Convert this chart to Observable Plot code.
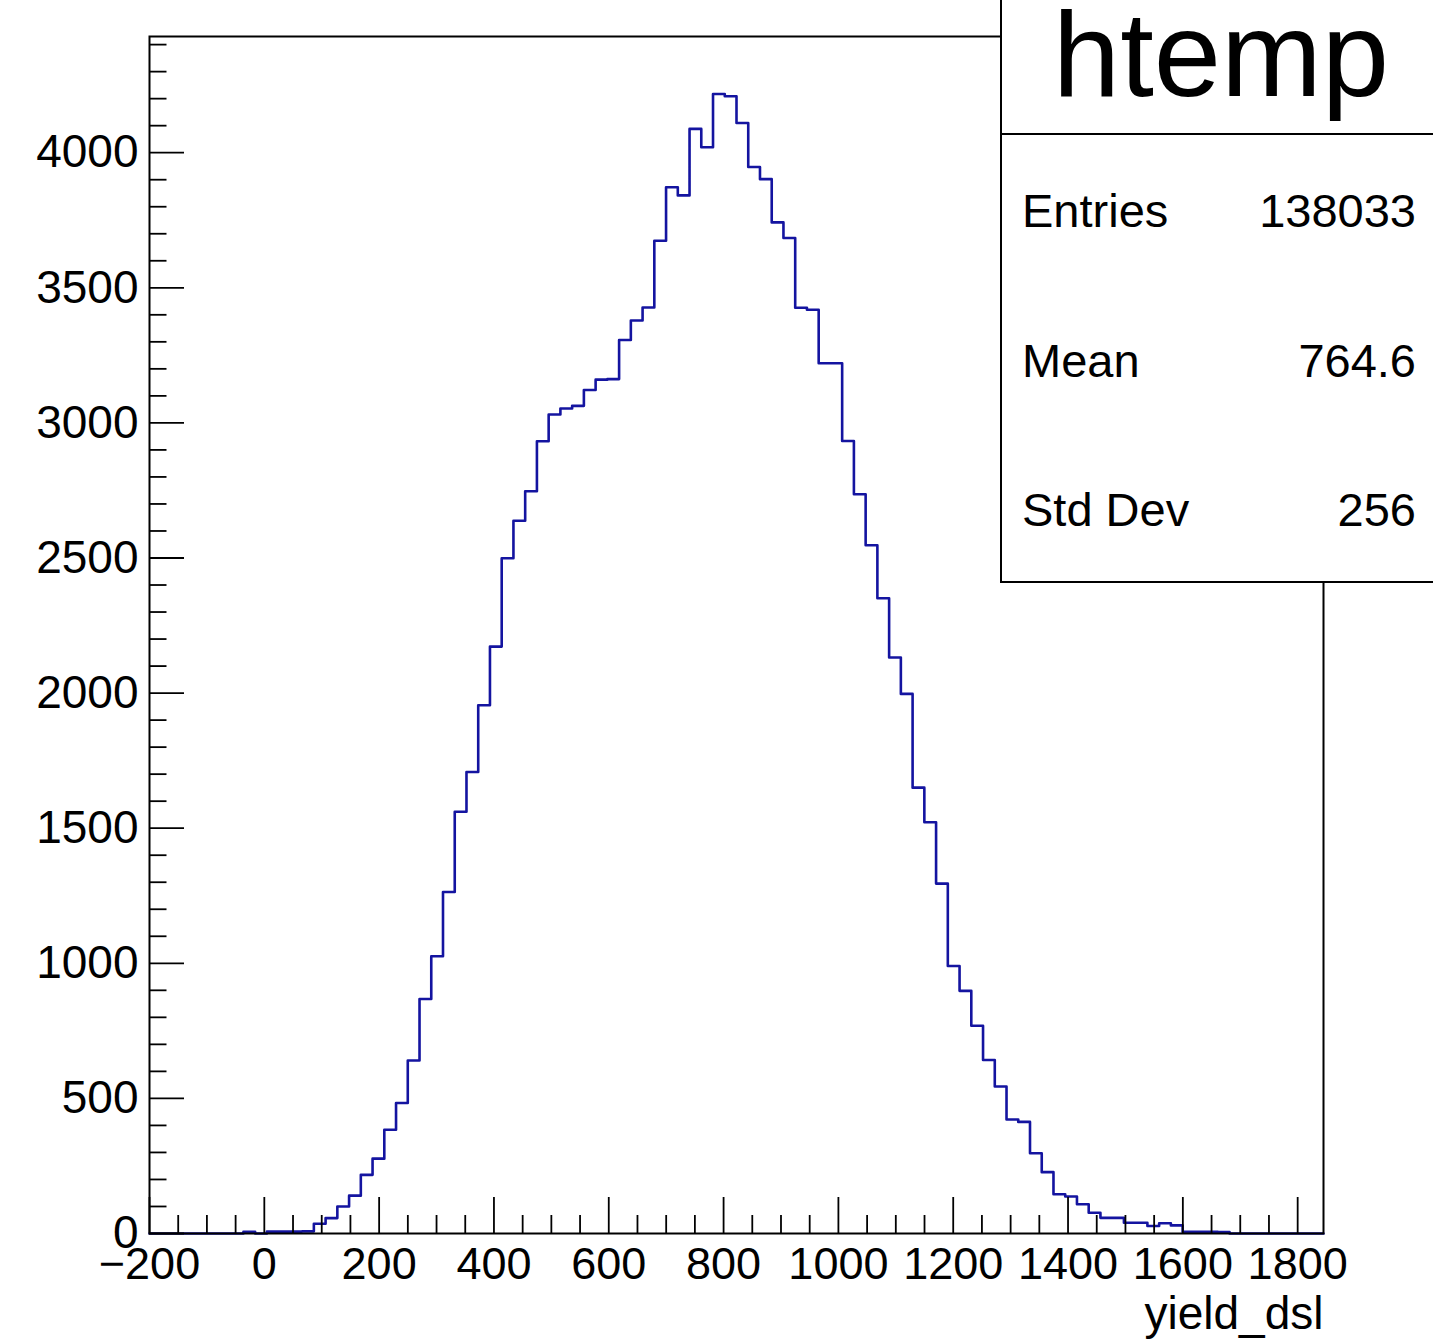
<!DOCTYPE html>
<html>
<head>
<meta charset="utf-8">
<script src="https://cdn.jsdelivr.net/npm/d3@7"></script>
<script src="https://cdn.jsdelivr.net/npm/@observablehq/plot@0.6"></script>
<style>
  html, body { margin: 0; padding: 0; background: #fff; overflow: hidden; }
  #wrap { position: relative; width: 1433px; height: 1343px; overflow: hidden; background: #fff; }
</style>
</head>
<body>
<div id="wrap"></div>
<script>
// ---- data ----
const histTitle = "htemp";
const xLabel = "yield_dsl";
const xMin = -200;
const xMax = 1845;
const yMax = 4430;
// 100 bins from xMin to xMax
const binCounts = [
  0, 0, 0, 0, 0, 0, 0, 0, 6, 0,
  7, 7, 7, 8, 36, 57, 100, 140, 217, 277,
  384, 483, 640, 868, 1026, 1264, 1561, 1708, 1955, 2172,
  2499, 2638, 2747, 2932, 3031, 3053, 3063, 3122, 3160, 3162,
  3307, 3379, 3427, 3674, 3872, 3842, 4088, 4020, 4217, 4209,
  4110, 3947, 3902, 3742, 3684, 3426, 3419, 3221, 3221, 2933,
  2736, 2547, 2351, 2132, 1997, 1650, 1522, 1295, 990, 898,
  769, 642, 544, 422, 413, 297, 227, 145, 137, 108,
  77, 58, 58, 40, 40, 28, 38, 30, 6, 6,
  6, 5, 0, 0, 0, 0, 0, 0, 0, 0
];
const xTicks = [-200, 0, 200, 400, 600, 800, 1000, 1200, 1400, 1600, 1800];
const yTicks = [0, 500, 1000, 1500, 2000, 2500, 3000, 3500, 4000];
const statLabels = ["Entries", "Mean", "Std Dev"];
const statValues = ["138033", "764.6", "256"];

// ---- layout ----
const W = 1433, H = 1343;
const mL = 149, mR = 110, mT = 36, mB = 110;
const frameW = W - mL - mR, frameH = H - mT - mB;
const font = "'Liberation Sans', Arial, Helvetica, sans-serif";

const binWidth = (xMax - xMin) / binCounts.length;
const steps = binCounts.map((c, i) => ({x: xMin + i * binWidth, y: c}));
steps.push({x: xMax, y: binCounts[binCounts.length - 1]});
const xMinor = d3.range(xMin, xMax + 1e-9, 50).filter(v => !xTicks.includes(v));
const yMinor = d3.range(0, yMax, 100).filter(v => !yTicks.includes(v));
const fmt = d => d < 0 ? "\u2212" + Math.abs(d) : String(d);

const svg = Plot.plot({
  width: W, height: H,
  marginLeft: mL, marginRight: mR, marginTop: mT, marginBottom: mB,
  style: {fontFamily: font, background: "#fff", color: "#000"},
  x: {domain: [xMin, xMax]},
  y: {domain: [0, yMax]},
  marks: [
    Plot.line(steps, {x: "x", y: "y", curve: "step-after", stroke: "#1414a0", strokeWidth: 2.6}),
    Plot.tickX(xTicks, {x: d => d, insetTop: frameH - 36, stroke: "#000", strokeWidth: 1.8}),
    Plot.tickX(xMinor, {x: d => d, insetTop: frameH - 18, stroke: "#000", strokeWidth: 1.8}),
    Plot.tickY(yTicks, {y: d => d, insetRight: frameW - 35, stroke: "#000", strokeWidth: 1.8}),
    Plot.tickY(yMinor, {y: d => d, insetRight: frameW - 17.5, stroke: "#000", strokeWidth: 1.8}),
    Plot.frame({stroke: "#000", strokeWidth: 2}),
    Plot.axisX(xTicks, {tickSize: 0, tickPadding: 14, fontSize: 45, tickFormat: fmt, label: null}),
    Plot.axisY(yTicks, {tickSize: 0, tickPadding: 11, fontSize: 46, tickFormat: fmt, label: null}),
    Plot.text([xLabel], {text: d => d, frameAnchor: "bottom-right", dy: 95, textAnchor: "end", fontSize: 46, fill: "#000"})
  ]
});

// ---- stats box (ROOT-style) ----
const g = d3.select(svg).append("g").attr("font-family", font).attr("fill", "#000");
g.append("rect").attr("x", 1001).attr("y", -10).attr("width", 440).attr("height", 592)
  .attr("fill", "#fff").attr("stroke", "#000").attr("stroke-width", 2);
g.append("line").attr("x1", 1001).attr("x2", 1440).attr("y1", 134).attr("y2", 134)
  .attr("stroke", "#000").attr("stroke-width", 2);
g.append("text").attr("x", 1221).attr("y", 96).attr("text-anchor", "middle")
  .attr("font-size", 121).text(histTitle);
statLabels.forEach((lab, i) => {
  const yb = 227 + i * 149.5;
  g.append("text").attr("x", 1022).attr("y", yb).attr("text-anchor", "start").attr("font-size", 47).text(lab);
  g.append("text").attr("x", 1416).attr("y", yb).attr("text-anchor", "end").attr("font-size", 47).text(statValues[i]);
});

document.getElementById("wrap").appendChild(svg);
</script>
</body>
</html>
